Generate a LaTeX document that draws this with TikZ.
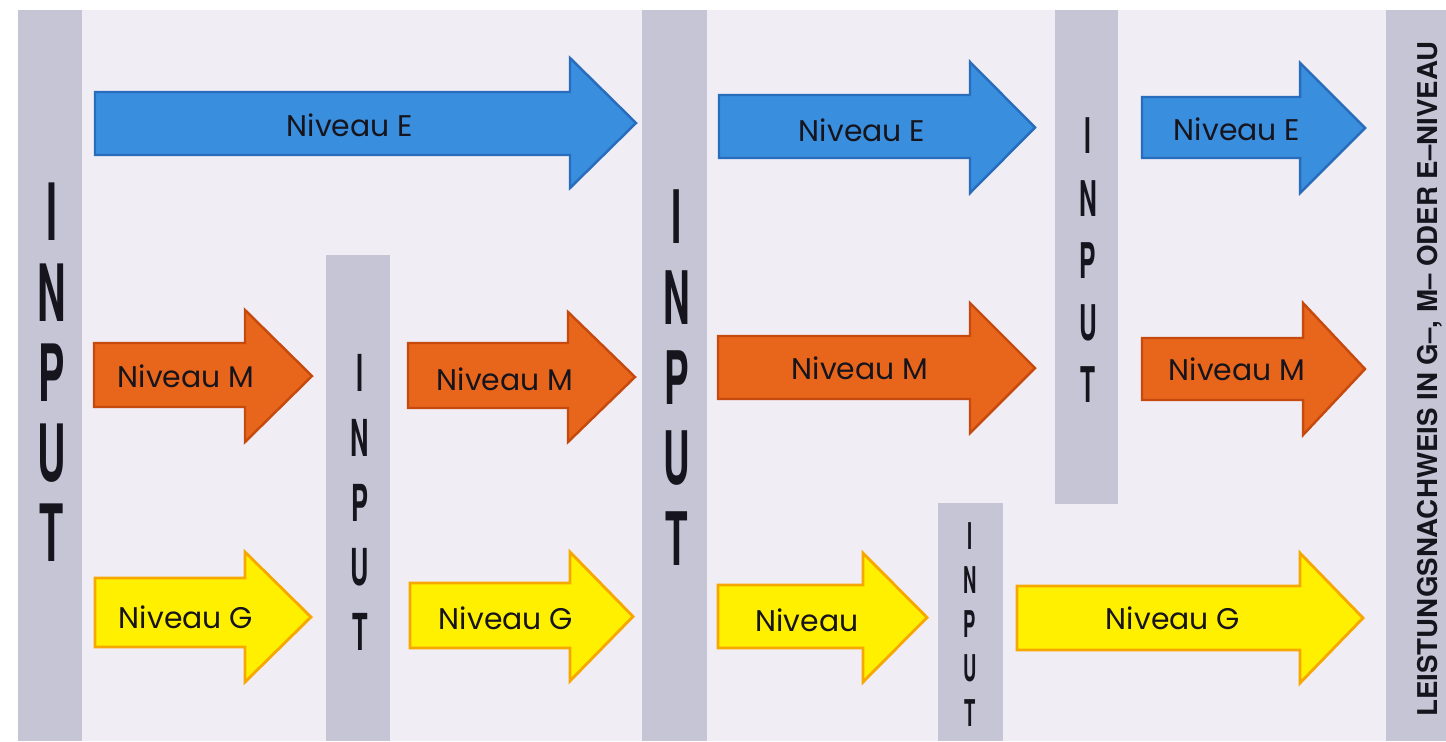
\documentclass[tikz,border=0pt]{standalone}
\usepackage{fontspec}
\usepackage{graphicx}
\setmainfont{Poppins}
\newfontfamily\capsfont{TeX Gyre Heros}
\definecolor{bgcol}{RGB}{240,237,245}
\definecolor{barcol}{RGB}{198,197,214}
\definecolor{bluefill}{RGB}{58,142,222}
\definecolor{blueline}{RGB}{40,108,188}
\definecolor{orfill}{RGB}{232,102,28}
\definecolor{orline}{RGB}{198,74,14}
\definecolor{yefill}{RGB}{255,240,0}
\definecolor{yeline}{RGB}{247,168,0}
\definecolor{inkcol}{RGB}{22,20,28}
\newcommand\fatarrow[8]{% style, xl, xn, xt, shaft top, shaft bottom, head top, head bottom
  \draw[#1] (#2,#5) -- (#3,#5) -- (#3,#7) -- (#4,{(#7+#8)/2}) -- (#3,#8) -- (#3,#6) -- (#2,#6) -- cycle;}
\newcommand\inputletters[5]{% name, x, y of first letter, spacing, font size
  \foreach \l [count=\k] in {I,N,P,U,T}
    \node[inletter, font=\capsfont\bfseries\fontsize{#5}{#5}\selectfont] (#1-\k) at (#2,{#3+(\k-1)*#4}) {\scalebox{0.5}[1]{\l}};}
\begin{document}
\begin{tikzpicture}[x=0.02cm,y=-0.02cm,
  bluearrow/.style={fill=bluefill,draw=blueline,line width=1.4pt,line join=miter},
  orarrow/.style={fill=orfill,draw=orline,line width=1.4pt,line join=miter},
  yearrow/.style={fill=yefill,draw=yeline,line width=1.6pt,line join=miter},
  lbl/.style={inner sep=0pt,text=inkcol,font=\fontsize{17}{17}\selectfont},
  inletter/.style={inner sep=0pt,text=inkcol},
  bar/.style={fill=barcol,draw=none}]
\useasboundingbox (0,0) rectangle (1446,741);
\fill[white] (0,0) rectangle (1446,741);
\fill[bgcol] (18,10) rectangle (1446,741);
% gray bars
\fill[bar] (18,10) rectangle (82,741);
\fill[bar] (326,255) rectangle (390,741);
\fill[bar] (642,10) rectangle (707,741);
\fill[bar] (1055,10) rectangle (1118,504);
\fill[bar] (938,503) rectangle (1003,741);
\fill[bar] (1386,10) rectangle (1446,741);
% INPUT letters
\inputletters{inA}{52}{212}{80.25}{45}
\inputletters{inB}{360}{373}{64.75}{29}
\inputletters{inC}{677}{217}{80.5}{42}
\inputletters{inD}{1088}{136}{62.25}{28}
\inputletters{inE}{970}{536}{44.25}{21}
% blue arrows (Niveau E)
\fatarrow{bluearrow}{95}{570}{636}{92}{155}{58}{188}
\fatarrow{bluearrow}{719}{970}{1035}{95}{158}{62}{193}
\fatarrow{bluearrow}{1142}{1300}{1365}{97}{158}{63}{193}
% orange arrows (Niveau M)
\fatarrow{orarrow}{94}{245}{312}{343}{407}{310}{442}
\fatarrow{orarrow}{408}{568}{635}{343}{408}{312}{442}
\fatarrow{orarrow}{718}{970}{1035}{336}{399}{303}{433}
\fatarrow{orarrow}{1142}{1303}{1365}{338}{400}{303}{435}
% yellow arrows (Niveau G)
\fatarrow{yearrow}{95}{245}{311}{578}{647}{552}{682}
\fatarrow{yearrow}{410}{570}{633}{583}{648}{552}{681}
\fatarrow{yearrow}{718}{863}{927}{585}{648}{553}{682}
\fatarrow{yearrow}{1017}{1300}{1363}{586}{650}{553}{683}
% labels
\node[lbl] (lE1) at (350,125) {Niveau E};
\node[lbl] (lE2) at (862,130) {Niveau E};
\node[lbl] (lE3) at (1237,129) {Niveau E};
\node[lbl] (lM1) at (186,376) {Niveau M};
\node[lbl] (lM2) at (505,379) {Niveau M};
\node[lbl] (lM3) at (860,368) {Niveau M};
\node[lbl] (lM4) at (1237,369) {Niveau M};
\node[lbl] (lG1) at (186,617) {Niveau G};
\node[lbl] (lG2) at (506,618) {Niveau G};
\node[lbl] (lG3) at (807,620) {Niveau};
\node[lbl] (lG4) at (1173,618) {Niveau G};
% right bar text
\node[inner sep=0pt,text=inkcol,rotate=90] (proof) at (1430,379)
  {\resizebox{13.5cm}{\height}{\capsfont\bfseries\fontsize{15.5}{16}\selectfont LEISTUNGSNACHWEIS IN G–, M– ODER E–NIVEAU}};
\end{tikzpicture}
\end{document}
